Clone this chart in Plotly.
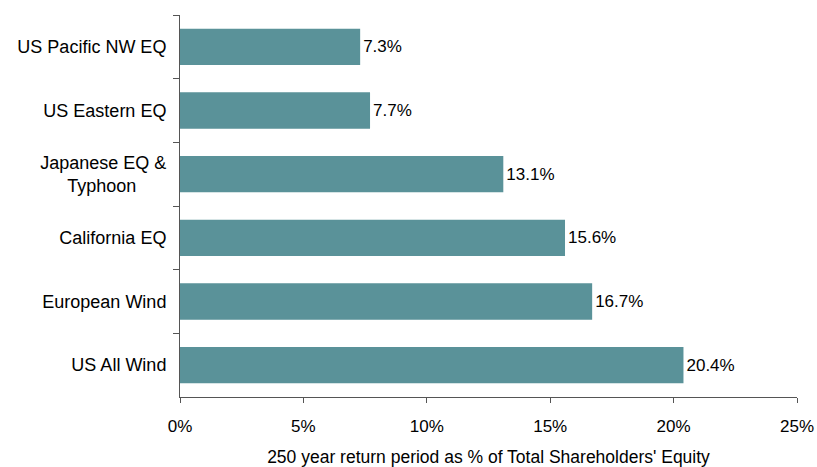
import plotly.graph_objects as go

# Catastrophe scenarios, listed top to bottom
categories = ["US Pacific NW EQ", "US Eastern EQ",
              "Japanese EQ &<br>Typhoon\u00a0\u00a0\u00a0\u00a0\u00a0\u00a0",
              "California EQ", "European Wind", "US All Wind"]
values = [7.3, 7.7, 13.1, 15.6, 16.7, 20.4]
x_ticks = [0, 5, 10, 15, 20, 25]
x_tick_labels = ["0%", "5%", "10%", "15%", "20%", "25%"]
x_title = "250 year return period as % of Total Shareholders' Equity"

font = "Liberation Sans, Arial, sans-serif"
fsize = 17

fig = go.Figure(go.Bar(
    x=values,
    y=categories,
    orientation="h",
    marker=dict(color="#5A9299", line=dict(width=0)),
    text=[f"{v:.1f}%" for v in values],
    textposition="outside",
    textfont=dict(family=font, size=fsize, color="#000000"),
    cliponaxis=False,
))

fig.update_layout(
    width=817,
    height=467,
    margin=dict(l=180, r=20, t=15, b=70, autoexpand=False),
    paper_bgcolor="white",
    plot_bgcolor="white",
    bargap=0.43,
    showlegend=False,
    font=dict(family=font, size=fsize, color="#000000"),
)

fig.update_xaxes(
    range=[0, 25],
    tickvals=x_ticks,
    ticktext=x_tick_labels,
    automargin=False,
    showgrid=False,
    zeroline=False,
    showline=True,
    linecolor="#555555",
    linewidth=1,
    ticks="outside",
    ticklen=5,
    tickcolor="#555555",
    ticklabelstandoff=9,
    tickfont=dict(family=font, size=fsize, color="#000000"),
    title=dict(text=x_title, font=dict(family=font, size=17.5, color="#000000"), standoff=16),
)

fig.update_yaxes(
    autorange="reversed",
    automargin=False,
    showgrid=False,
    zeroline=False,
    showline=True,
    linecolor="#555555",
    linewidth=1,
    ticks="outside",
    tickson="boundaries",
    ticklen=6,
    tickcolor="#555555",
    ticklabelstandoff=9,
    tickfont=dict(family=font, size=18, color="#000000"),
)

fig.write_html("out.html")
